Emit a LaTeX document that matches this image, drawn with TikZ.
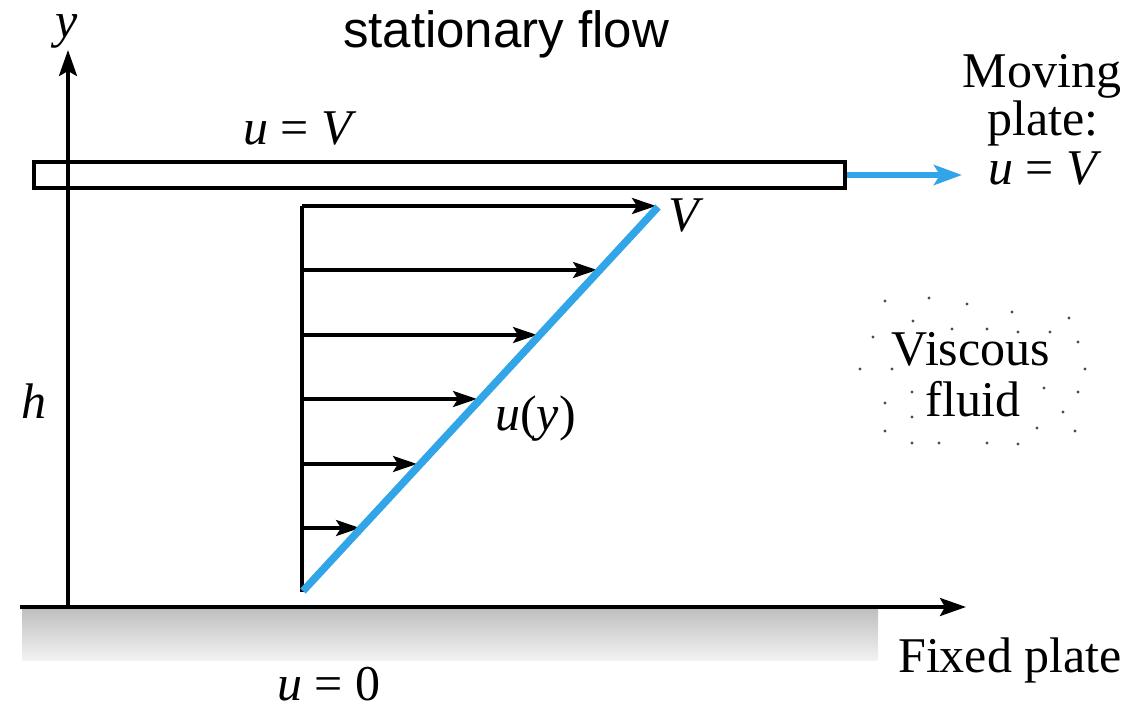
\documentclass[tikz,border=0pt]{standalone}
\usepackage{fontspec}
\setmainfont{Liberation Serif}
\newfontfamily\arialf{Liberation Sans}
\usetikzlibrary{arrows.meta}
\definecolor{flowblue}{RGB}{50,165,232}
\begin{document}
\begin{tikzpicture}[x=1pt,y=-1pt,
  lbl/.style={font=\fontsize{50}{58}\selectfont, inner sep=0pt, anchor=base},
  axisline/.style={line width=3.6pt, -{Stealth[length=26pt,width=18pt,inset=5pt]}},
  vel/.style={line width=3.4pt, -{Stealth[length=24pt,width=16pt,inset=5pt]}},
  dot/.style={fill=black!70, circle, inner sep=0pt, minimum size=3.4pt}]
\useasboundingbox (0,0) rectangle (1128,711);
% fixed plate shading
\shade[top color=black!25, bottom color=black!5] (22,609) rectangle (878,660);
% axes
\coordinate (O) at (68,607);
\coordinate (ytip) at (68,50);
\coordinate (xl) at (20,607);
\coordinate (xtip) at (966,607);
\draw[axisline] (xl) -- (xtip);
\draw[axisline] (O) -- (ytip);
% moving plate
\draw[line width=3.6pt] (34,162) rectangle (845,188);
\coordinate (pr) at (847,175);
\coordinate (ptip) at (962,175);
\draw[line width=5.5pt, flowblue, -{Stealth[length=28pt,width=20pt,inset=6pt]}] (pr) -- (ptip);
% velocity profile
\coordinate (b) at (302,592);
\coordinate (t) at (302,206);
\draw[line width=3.6pt] (b) -- (t);
\foreach \yy/\xx [count=\i] in {206/656, 270/597, 335/537, 399/477, 464/417, 528/360} {
  \coordinate (s\i) at (302,\yy);
  \coordinate (e\i) at (\xx,\yy);
  \draw[vel] (s\i) -- (e\i);
}
\coordinate (bb) at (303,591);
\coordinate (bt) at (658,207);
\draw[line width=7.5pt, flowblue] (bb) -- (bt);
% labels
\node[lbl] (ylab) at (67,38) {\textit{y}};
\node[lbl, font=\arialf\fontsize{51}{60}\selectfont] (title) at (506,48) {stationary flow};
\node[lbl] (mp1) at (1042,88) {Moving};
\node[lbl] (mp2) at (1043,136) {plate:};
\node[lbl] (mp3) at (1045,185) {\textit{u} = \textit{V}};
\node[lbl] (uV) at (300,145) {\textit{u} = \textit{V}};
\node[lbl, anchor=base west] (Vlab) at (668,232) {\textit{V}};
\node[lbl, anchor=base west] (uy) at (495,431) {\textit{u}(\textit{y})};
\node[lbl, anchor=base west] (h) at (21,418) {\textit{h}};
\node[lbl] (visc) at (971,366) {Viscous};
\node[lbl] (fluid) at (973,417) {fluid};
\node[lbl, anchor=base east] (fixed) at (1122,672) {Fixed plate};
\node[lbl] (u0) at (329,700) {\textit{u} = 0};
% dots
\foreach \px/\py in {885/301,929/298,967/304,1012/312,1069/318,913/321,952/329,987/329,1018/332,1050/332,873/337,1078/342,860/369,892/369,1085/369,912/392,1044/388,1078/392,885/403,912/417,1063/412,885/431,1037/428,1075/431,912/443,939/443,987/443,1018/444}
  \node[dot] at (\px,\py) {};
\end{tikzpicture}
\end{document}
